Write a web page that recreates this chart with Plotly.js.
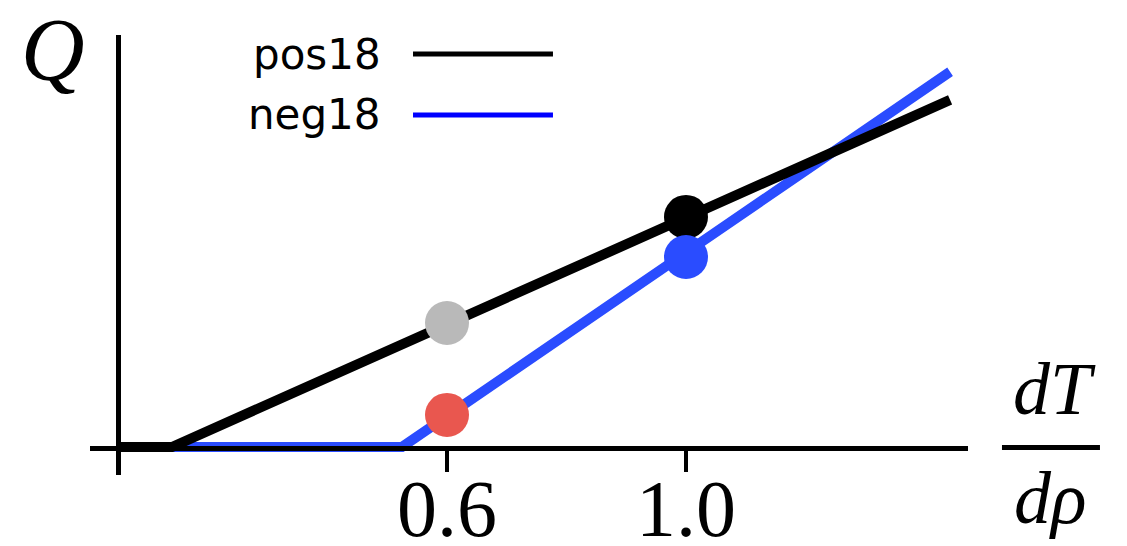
<!DOCTYPE html>
<html>
<head>
<meta charset="utf-8">
<script src="https://cdn.plot.ly/plotly-3.0.1.min.js"></script>
<style>
  html, body { margin: 0; padding: 0; background: #fff; }
  #chart { width: 1127px; height: 546px; }
</style>
</head>
<body>
<div id="chart"></div>
<script>
// ---- data ----
const seriesNames = ["pos18", "neg18"];
const posX = [0.0494, 0.1397, 1.442];
const posY = [0, 0, 0.581];
const negX = [0.141, 0.5247, 1.442];
const negY = [0, 0, 0.628];
const dotX = [0.6, 0.6, 1.0, 1.0];
const dotY = [0.2075, 0.0536, 0.385, 0.318];
const dotColors = ["#b9b9b9", "#e9574f", "#000000", "#2a4cff"];
const tickVals = [0.6, 1.0];
const tickText = ["0.6", "1.0"];
const yLabel = "Q";
const xLabelTop = "dT";
const xLabelBottom = "dρ";

const BLACK = "#000000";
const BLUE = "#2a4cff";
const LEGEND_BLUE = "#0000ff";

const traces = [
  { x: negX, y: negY, mode: "lines", name: seriesNames[1],
    line: { color: BLUE, width: 10 }, showlegend: false, hoverinfo: "skip" },
  { x: posX, y: posY, mode: "lines", name: seriesNames[0],
    line: { color: BLACK, width: 10 }, showlegend: false, hoverinfo: "skip" },
  { x: dotX, y: dotY, mode: "markers", showlegend: false, hoverinfo: "skip",
    marker: { size: 44, color: dotColors, line: { width: 0 } } },
];

const serif = "Liberation Serif, Times New Roman, serif";
const sans = "DejaVu Sans, sans-serif";

const layout = {
  width: 1127, height: 546,
  margin: { l: 90, r: 159, t: 35, b: 71, pad: 0 },
  paper_bgcolor: "#ffffff", plot_bgcolor: "#ffffff",
  showlegend: false,
  xaxis: {
    range: [0.0025, 1.472], anchor: "free", position: 0.0625,
    showline: true, linecolor: BLACK, linewidth: 5,
    showgrid: false, zeroline: false,
    ticks: "outside", ticklen: 21, tickwidth: 4, tickcolor: BLACK,
    tickmode: "array", tickvals: tickVals, ticktext: tickText,
    tickfont: { family: serif, size: 80, color: BLACK },
    ticklabelstandoff: -32,
  },
  xaxis2: {
    overlaying: "x", matches: "x", anchor: "free", position: 0.0625,
    showline: false, showgrid: false, zeroline: false,
    ticks: "inside", ticklen: 21, tickwidth: 4, tickcolor: BLACK,
    tickmode: "array", tickvals: tickVals, showticklabels: false,
  },
  yaxis: {
    range: [-0.0469, 0.6895], anchor: "free", position: 0.0319,
    showline: true, linecolor: BLACK, linewidth: 4.5,
    showgrid: false, zeroline: false, ticks: "", showticklabels: false,
  },
  shapes: [
    { type: "line", xref: "paper", yref: "paper", x0: 0.3679, x1: 0.5273, y0: 0.9568, y1: 0.9568,
      line: { color: BLACK, width: 5 } },
    { type: "line", xref: "paper", yref: "paper", x0: 0.3679, x1: 0.5273, y0: 0.8182, y1: 0.8182,
      line: { color: LEGEND_BLUE, width: 5 } },
    { type: "line", xref: "paper", yref: "paper", x0: 1.0387, x1: 1.1503, y0: 0.0625, y1: 0.0625,
      line: { color: BLACK, width: 5 } },
  ],
  annotations: [
    { text: seriesNames[0], xref: "paper", yref: "paper", x: 0.3337, y: 0.9568,
      xanchor: "right", yanchor: "middle", showarrow: false,
      font: { family: sans, size: 42, color: BLACK } },
    { text: seriesNames[1], xref: "paper", yref: "paper", x: 0.3337, y: 0.8182,
      xanchor: "right", yanchor: "middle", showarrow: false,
      font: { family: sans, size: 42, color: BLACK } },
    { text: "<i>" + yLabel + "</i>", xref: "paper", yref: "paper", x: -0.0421, y: 0.968,
      xanchor: "center", yanchor: "middle", showarrow: false,
      font: { family: serif, size: 88, color: BLACK } },
    { text: "<i>" + xLabelTop + "</i>", xref: "paper", yref: "paper", x: 1.098, y: 0.1955,
      xanchor: "center", yanchor: "middle", showarrow: false,
      font: { family: serif, size: 74, color: BLACK } },
    { text: "<i>" + xLabelBottom + "</i>", xref: "paper", yref: "paper", x: 1.0934, y: -0.0523,
      xanchor: "center", yanchor: "middle", showarrow: false,
      font: { family: serif, size: 74, color: BLACK } },
  ],
};

Plotly.newPlot("chart", traces, layout, { staticPlot: true, displayModeBar: false });
</script>
</body>
</html>
